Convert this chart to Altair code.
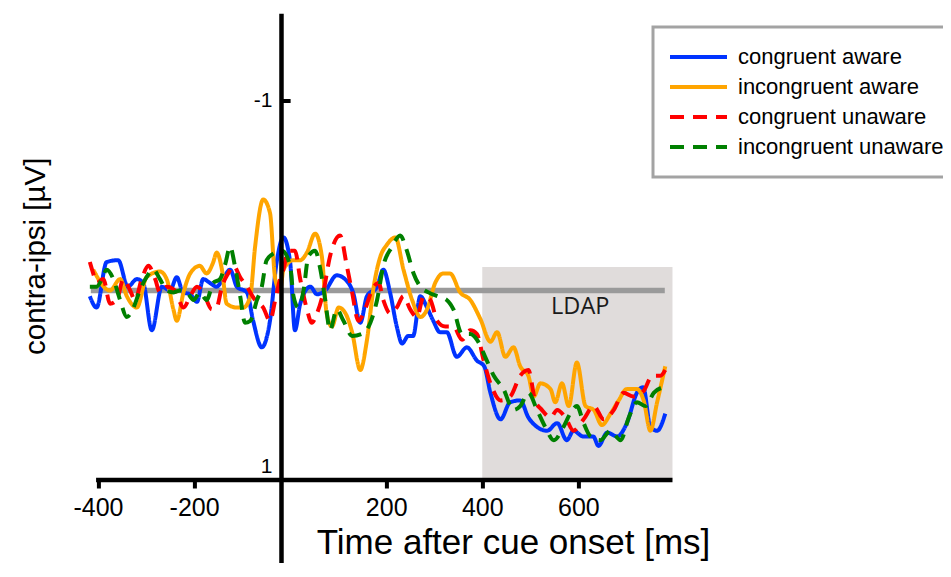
import altair as alt
import pandas as pd

# ---------------- data ----------------
conditions = ["congruent aware", "incongruent aware", "congruent unaware", "incongruent unaware"]
colors = ["#0033ff", "#ffa500", "#ff0000", "#008000"]
dashes = [[1, 0], [1, 0], [14, 9], [14, 9]]

ca_t = [-417, -403, -382, -358, -338, -319, -306, -288, -267, -250, -236, -223, -208, -194, -181,
        -167, -153, -140, -125, -111, -90, -77, -59, -42, -28, -14, 0, 10, 21, 42, 56, 73, 97, 118,
        131, 146, 160, 181, 194, 208, 222, 233, 246, 256, 271, 285, 298, 312, 326, 347, 368, 389,
        404, 417, 438, 458, 479, 496, 514, 535, 556, 576, 590, 610, 631, 642, 660, 681, 701, 722,
        735, 750, 764, 781]
ca_v = [0.03, 0.09, -0.15, -0.16, -0.02, -0.06, -0.04, 0.21, -0.02, 0.00, -0.07, 0.01, 0.02, 0.06,
        -0.06, -0.04, -0.02, -0.06, -0.11, -0.02, 0.01, 0.16, 0.30, 0.16, -0.15, -0.28, -0.15, 0.21,
        0.07, -0.02, 0.02, 0.00, -0.08, -0.05, 0.01, 0.17, 0.03, -0.02, -0.11, 0.01, 0.19, 0.28, 0.24,
        0.24, 0.03, 0.09, 0.16, 0.22, 0.22, 0.35, 0.30, 0.37, 0.40, 0.54, 0.68, 0.59, 0.58, 0.67, 0.72,
        0.74, 0.70, 0.79, 0.74, 0.77, 0.77, 0.82, 0.75, 0.77, 0.70, 0.54, 0.51, 0.72, 0.74, 0.65]

ia_t = [-410, -375, -354, -340, -319, -299, -271, -257, -243, -236, -222, -208, -188, -174, -160,
        -153, -142, -132, -111, -97, -83, -73, -56, -42, -31, -21, -14, 7, 21, 35, 52, 66, 76, 87,
        101, 115, 129, 146, 160, 174, 188, 201, 219, 236, 254, 271, 285, 302, 319, 333, 354, 375,
        396, 417, 431, 448, 465, 479, 496, 507, 521, 542, 552, 566, 580, 597, 615, 632, 649, 667,
        684, 701, 722, 736, 750, 764, 781]
ia_v = [-0.11, 0.00, -0.06, 0.03, 0.09, -0.07, -0.10, -0.06, 0.10, 0.16, 0.01, -0.09, -0.13, -0.09,
        -0.15, -0.20, -0.11, 0.07, 0.09, 0.09, 0.03, -0.23, -0.48, -0.41, -0.06, 0.00, -0.11, -0.16,
        -0.16, -0.20, -0.30, -0.18, 0.12, 0.19, 0.09, 0.12, 0.22, 0.42, 0.26, -0.02, -0.18, -0.24,
        -0.28, -0.11, 0.05, 0.14, 0.10, -0.04, -0.09, -0.09, 0.01, 0.05, 0.15, 0.27, 0.22, 0.35, 0.30,
        0.40, 0.45, 0.56, 0.49, 0.52, 0.59, 0.49, 0.61, 0.38, 0.61, 0.63, 0.71, 0.65, 0.58, 0.52, 0.52,
        0.58, 0.74, 0.59, 0.40]

cu_t = [-417, -410, -403, -389, -375, -361, -347, -333, -323, -309, -295, -281, -271, -257, -240,
        -222, -208, -194, -181, -163, -153, -142, -129, -118, -104, -90, -73, -56, -42, -31, -21,
        -14, -4, 10, 21, 35, 45, 56, 69, 83, 104, 118, 129, 142, 156, 170, 184, 194, 208, 222, 236,
        250, 264, 278, 292, 306, 323, 340, 358, 375, 389, 403, 420, 438, 458, 479, 496, 510, 524,
        542, 556, 573, 590, 611, 632, 653, 674, 694, 715, 736, 754, 771, 781]
cu_v = [-0.15, -0.09, -0.04, -0.06, 0.07, 0.05, -0.06, 0.00, 0.05, -0.06, -0.13, -0.06, 0.01, -0.02,
        0.00, 0.09, 0.03, -0.02, 0.01, 0.10, 0.09, -0.02, -0.09, -0.13, -0.07, -0.02, 0.05, 0.09, 0.16,
        0.05, -0.06, -0.11, -0.21, -0.21, -0.06, 0.10, 0.17, 0.12, 0.01, -0.18, -0.29, -0.13, 0.01,
        0.16, 0.10, 0.00, -0.04, 0.05, 0.12, 0.09, 0.03, 0.10, 0.14, 0.03, 0.05, 0.16, 0.19, 0.19, 0.26,
        0.21, 0.23, 0.37, 0.51, 0.58, 0.56, 0.45, 0.42, 0.58, 0.63, 0.67, 0.63, 0.67, 0.74, 0.68, 0.61,
        0.68, 0.63, 0.54, 0.56, 0.53, 0.45, 0.45, 0.42]

iu_t = [-417, -403, -392, -382, -368, -354, -340, -326, -313, -299, -285, -271, -257, -243, -229,
        -215, -201, -188, -174, -160, -146, -135, -125, -115, -104, -94, -83, -69, -59, -49, -31,
        -17, 0, 7, 17, 28, 38, 52, 63, 73, 83, 97, 111, 129, 149, 167, 181, 194, 212, 229, 243, 257,
        271, 288, 306, 326, 340, 358, 375, 389, 406, 424, 444, 465, 479, 496, 514, 531, 549, 569,
        583, 597, 611, 625, 646, 667, 688, 705, 722, 740, 757, 778]
iu_v = [-0.02, -0.02, -0.06, -0.11, -0.06, 0.05, 0.14, 0.09, 0.00, -0.07, -0.11, -0.06, 0.00, 0.01,
        0.00, 0.01, 0.05, 0.01, 0.05, -0.04, -0.06, -0.14, -0.23, -0.13, 0.03, 0.17, 0.16, 0.05, -0.02,
        -0.16, -0.20, -0.21, -0.13, 0.03, 0.09, 0.00, -0.18, -0.21, -0.11, 0.05, 0.21, 0.10, 0.16, 0.24,
        0.23, 0.17, 0.05, -0.13, -0.23, -0.29, -0.21, -0.09, -0.02, 0.01, 0.03, 0.05, 0.10, 0.23, 0.23,
        0.26, 0.35, 0.45, 0.52, 0.63, 0.61, 0.54, 0.63, 0.72, 0.79, 0.72, 0.65, 0.61, 0.70, 0.77, 0.79,
        0.74, 0.79, 0.67, 0.59, 0.61, 0.54, 0.51]

x_ticks = [-400, -200, 200, 400, 600]
y_ticks = [-1, 1]
ldap_window = [400, 796]      # ms
ldap_top = -0.124             # µV
baseline_range = [-415, 780]  # ms
axis_x_range = [-404, 796]
axis_y_pos = -18
axis_y_range = [-1.46, 1.6]

# ---------------- tables ----------------
series = [(ca_t, ca_v), (ia_t, ia_v), (cu_t, cu_v), (iu_t, iu_v)]
rows = []
for i, (ts, vs) in enumerate(series):
    for k, (t, v) in enumerate(zip(ts, vs)):
        rows.append({"t": t, "v": v, "cond": conditions[i], "order": k})
df = pd.DataFrame(rows)

FONT = "Liberation Sans"

xscale = alt.Scale(domain=[-420, 800], nice=False, zero=False)
yscale = alt.Scale(domain=[-1.46, 1], reverse=True, nice=False, zero=False)

xaxis = alt.Axis(
    values=x_ticks, labelExpr="'' + datum.value", domain=False, grid=False,
    ticks=True, tickSize=8, tickWidth=4, tickColor="black",
    labelFont=FONT, labelFontSize=25, labelColor="black", labelPadding=27,
    labelBaseline="alphabetic", labelFlush=False, labelAlign="center",
    title="Time after cue onset [ms]", titleFont=FONT, titleFontSize=35,
    titleFontWeight="normal", titleColor="black", titleX=424.6, titleY=73,
    titleAlign="center", titleBaseline="alphabetic",
)
yaxis = alt.Axis(
    orient="left", offset=-192.6, values=y_ticks, labelExpr="'' + datum.value",
    domain=False, grid=False, ticks=False, tickSize=0,
    labelFont=FONT, labelFontSize=21, labelColor="black", labelPadding=9,
    labelOffset={"condition": {"test": "datum.value == 1", "value": -14}, "value": 0},
    title="contra-ipsi [µV]", titleFont=FONT, titleFontSize=29.5, titleFontWeight="normal",
    titleColor="black", titleAngle=270, titleX=-237, titleY=242,
    titleAlign="center", titleBaseline="alphabetic",
)

X = alt.X("t:Q", scale=xscale, axis=xaxis)
Y = alt.Y("v:Q", scale=yscale, axis=yaxis)

# gray LDAP window
rect_df = pd.DataFrame({"t": [ldap_window[0]], "t2": [ldap_window[1]], "v": [ldap_top], "v2": [1]})
rect = alt.Chart(rect_df).mark_rect(color="#e0dcdb").encode(x=X, x2="t2:Q", y=Y, y2="v2:Q")

# baseline at 0
base_df = pd.DataFrame({"t": [baseline_range[0]], "t2": [baseline_range[1]], "v": [0]})
base = alt.Chart(base_df).mark_rule(color="#9a9a9a", strokeWidth=5.5).encode(x=X, x2="t2:Q", y=Y)

# LDAP label
lab_df = pd.DataFrame({"t": [604], "v": [0.087], "txt": ["LDAP"]})
lab = alt.Chart(lab_df).mark_text(font="Open Sans", fontSize=23.5, color="#1a1a1a",
                                  align="center", baseline="middle").encode(x=X, y=Y, text="txt:N")

legend = alt.Legend(
    title=None, orient="none", legendX=564.6, legendY=13.2, padding=15,
    fillColor="white", strokeColor="#a3a3a3", symbolType="stroke", symbolSize=3249,
    symbolStrokeWidth=4, labelFont=FONT, labelFontSize=22, labelColor="black",
    labelOffset=9, labelLimit=400, clipHeight=30, rowPadding=0,
)

lines = alt.Chart(df).mark_line(strokeWidth=4, interpolate="monotone").encode(
    x=X, y=Y,
    color=alt.Color("cond:N", scale=alt.Scale(domain=conditions, range=colors), legend=legend),
    strokeDash=alt.StrokeDash("cond:N", scale=alt.Scale(domain=conditions, range=dashes), legend=legend),
    order="order:Q",
)

# axis lines drawn as rules
xline_df = pd.DataFrame({"t": [axis_x_range[0]], "t2": [axis_x_range[1]], "v": [1]})
xline = alt.Chart(xline_df).mark_rule(color="black", strokeWidth=4.5).encode(x=X, x2="t2:Q", y=Y)
yline_df = pd.DataFrame({"t": [axis_y_pos], "v": [axis_y_range[0]], "v2": [axis_y_range[1]]})
yline = alt.Chart(yline_df).mark_rule(color="black", strokeWidth=4.5).encode(x=X, y=Y, y2="v2:Q")
ytick_df = pd.DataFrame({"t": [axis_y_pos], "t2": [1], "v": [-1]})
ytick = alt.Chart(ytick_df).mark_rule(color="black", strokeWidth=4).encode(x=X, x2="t2:Q", y=Y)

chart = alt.layer(rect, base, lab, lines, xline, yline, ytick).properties(
    width=586, height=466.2,
    autosize=alt.AutoSizeParams(type="none"),
    padding={"left": 80.4, "top": 5.8, "right": 268.6, "bottom": 83},
    background="white",
).configure_view(stroke=None).configure_legend(strokeWidth=3)

chart.save("out.html", embed_options={"renderer": "svg", "actions": False})
